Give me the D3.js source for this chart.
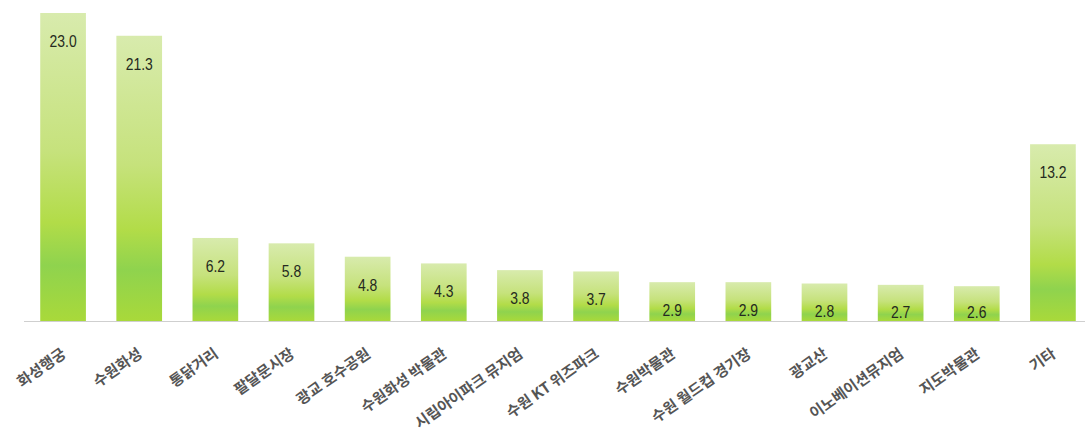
<!DOCTYPE html>
<html>
<head>
<meta charset="utf-8">
<script src="https://cdn.jsdelivr.net/npm/d3@7"></script>
<style>
  body { margin: 0; background: #fff; }
</style>
</head>
<body>
<div id="chart"></div>
<script>
const categories = ["화성행궁", "수원화성", "통닭거리", "팔달문시장", "광교 호수공원", "수원화성 박물관",
  "시립아이파크 뮤지엄", "수원 KT 위즈파크", "수원박물관", "수원 월드컵 경기장", "광교산",
  "이노베이션뮤지엄", "지도박물관", "기타"];
const values = [23.0, 21.3, 6.2, 5.8, 4.8, 4.3, 3.8, 3.7, 2.9, 2.9, 2.8, 2.7, 2.6, 13.2];

const width = 1085, height = 440;
const baseY = 321;

const svg = d3.select("#chart").append("svg")
  .attr("width", width)
  .attr("height", height);

const grad = svg.append("defs").append("linearGradient")
  .attr("id", "barGrad")
  .attr("x1", 0).attr("y1", 0).attr("x2", 0).attr("y2", 1);
[[0, "#d8ebad"], [0.45, "#c6e27c"], [0.68, "#b2dc48"], [0.82, "#8fd34e"], [1, "#a9d93a"]]
  .forEach(([o, c]) => grad.append("stop").attr("offset", o).attr("stop-color", c));

const x = d3.scaleBand()
  .domain(categories)
  .range([25, 1091])
  .paddingInner(0.4)
  .paddingOuter(0.2);

const y = d3.scaleLinear()
  .domain([0, d3.max(values)])
  .range([baseY, 13]);

const data = categories.map((c, i) => ({ name: c, value: values[i] }));

// baseline
svg.append("line")
  .attr("x1", 24).attr("x2", width)
  .attr("y1", baseY + 0.5).attr("y2", baseY + 0.5)
  .attr("stroke", "#cfcfcf")
  .attr("stroke-width", 1.2);

svg.selectAll(".bar")
  .data(data)
  .enter()
  .append("rect")
  .attr("class", "bar")
  .attr("x", (d) => x(d.name))
  .attr("y", (d) => y(d.value))
  .attr("width", x.bandwidth())
  .attr("height", (d) => baseY - y(d.value))
  .attr("fill", "url(#barGrad)");

// value labels, squeezed horizontally to look like a narrow face
svg.selectAll(".val")
  .data(data)
  .enter()
  .append("text")
  .attr("class", "val")
  .attr("transform", (d) => `translate(${x(d.name) + x.bandwidth() / 2},${Math.min(y(d.value) + 28, baseY - 9)}) scale(0.82,1)`)
  .attr("dy", "0.35em")
  .attr("text-anchor", "middle")
  .style("font-family", "'Liberation Sans', Arial, sans-serif")
  .style("font-size", "17px")
  .style("fill", "#252a20")
  .text((d) => d3.format(".1f")(d.value));

svg.selectAll(".cat")
  .data(data)
  .enter()
  .append("text")
  .attr("class", "cat")
  .attr("transform", (d) => `translate(${x(d.name) + x.bandwidth() / 2 + 4},${baseY + 35}) rotate(-35)`)
  .attr("text-anchor", "end")
  .style("font-family", "'Noto Sans CJK KR', sans-serif")
  .style("font-size", "15px")
  .style("font-weight", "bold")
  .style("fill", "#555")
  .text((d) => d.name);
</script>
</body>
</html>
